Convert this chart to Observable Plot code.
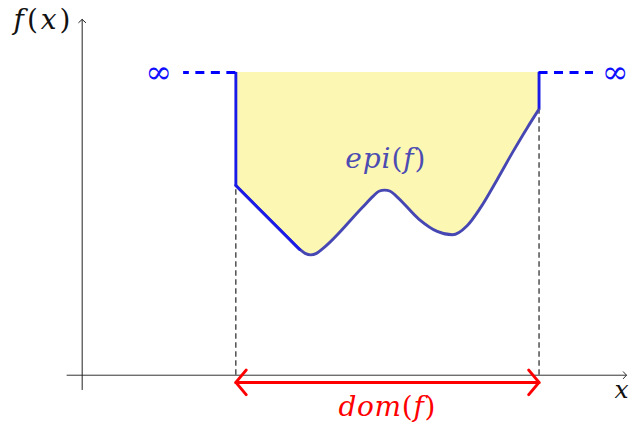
<!DOCTYPE html>
<html><head><meta charset="utf-8">
<script src="https://cdn.jsdelivr.net/npm/d3@7"></script>
<script src="https://cdn.jsdelivr.net/npm/@observablehq/plot@0.6"></script>
<style>html,body{margin:0;padding:0;background:#fff;} svg{display:block}</style>
</head><body><div id="chart"></div>
<script>
// ---- data (in drawing units) ----
const curveX = [4.06, 5.45, 5.74, 5.89, 6.04, 6.19, 6.34, 7.40, 7.69, 7.84, 7.99, 8.14, 8.29, 8.90, 9.38, 9.78, 10.17, 10.52, 10.97, 11.39, 11.76, 12.07];
const curveY = [5.01, 3.62, 3.33, 3.22, 3.18, 3.22, 3.33, 4.43, 4.73, 4.86, 4.89, 4.86, 4.74, 4.12, 3.80, 3.71, 3.95, 4.42, 5.18, 5.92, 6.54, 7.03];
const infinityLevel = 8;
const domEnds = [4.06, 12.07];
const infDashLeft = [4.06, 2.68];
const infDashRight = [12.07, 13.51];
const xAxisExtent = [-0.40, 14.38];
const yAxisExtent = [-0.38, 9.40];
const labelTexts = ["f(x)", "x", "epi(f)", "dom(f)", "∞"];
const labelX = [-1.06, 14.25, 8.01, 8.05];
const labelY = [9.38, -0.38, 5.72, -0.84];
const infLabelX = [2.02, 14.08];

const points = curveX.map((x, i) => ({x, y: curveY[i]}));
const serif = "'DejaVu Serif', serif";

const plot = Plot.plot({
  width: 629,
  height: 428,
  margin: 0,
  x: {domain: [-2.158, 14.46], axis: null},
  y: {domain: [-1.408, 9.90], axis: null},
  style: {background: "#ffffff"},
  marks: [
    Plot.areaY(points, {x: "x", y1: "y", y2: infinityLevel, curve: "monotone-x", fill: "#fcf8b4"}),
    Plot.ruleX(domEnds, {x: d => d, y1: 0, y2: (d, i) => i === 0 ? curveY[0] : curveY[curveY.length - 1], stroke: "#111", strokeWidth: 1.1, strokeDasharray: "5.5,3.5"}),
    Plot.line(points, {x: "x", y: "y", curve: "monotone-x", stroke: "#4747b4", strokeWidth: 2.9}),
    Plot.line(points.slice(0, 3), {x: "x", y: "y", stroke: "#1c1ce8", strokeWidth: 2.9, strokeLinecap: "round"}),
    Plot.ruleX(domEnds, {x: d => d, y1: (d, i) => i === 0 ? curveY[0] : curveY[curveY.length - 1], y2: infinityLevel, stroke: "#1c1ce8", strokeWidth: 2.9}),
    Plot.ruleY([infinityLevel], {x1: infDashLeft[0], x2: infDashLeft[1], stroke: "#0000ff", strokeWidth: 3, strokeDasharray: "9,6.5"}),
    Plot.ruleY([infinityLevel], {x1: infDashRight[0], x2: infDashRight[1], stroke: "#0000ff", strokeWidth: 3, strokeDasharray: "9,6.5"}),
    Plot.arrow([0], {x1: xAxisExtent[0], x2: xAxisExtent[1], y1: 0, y2: 0, stroke: "#333", strokeWidth: 1, headLength: 7, headAngle: 95}),
    Plot.arrow([0], {x1: 0, x2: 0, y1: yAxisExtent[0], y2: yAxisExtent[1], stroke: "#222", strokeWidth: 1, headLength: 7, headAngle: 95}),
    Plot.arrow([0], {x1: domEnds[0], x2: domEnds[1], y1: -0.19, y2: -0.19, stroke: "#ff0000", strokeWidth: 3, headLength: 8, headAngle: 100}),
    Plot.arrow([0], {x1: domEnds[1], x2: domEnds[0], y1: -0.19, y2: -0.19, stroke: "#ff0000", strokeWidth: 3, headLength: 8, headAngle: 100}),
    Plot.text([labelTexts[0]], {x: labelX[0], y: labelY[0], text: d => d, fill: "#111", fontSize: 28, fontFamily: serif, fontStyle: "italic"}),
    Plot.text([labelTexts[1]], {x: labelX[1], y: labelY[1], text: d => d, fill: "#111", fontSize: 25, fontFamily: serif, fontStyle: "italic"}),
    Plot.text([labelTexts[2]], {x: labelX[2], y: labelY[2], text: d => d, fill: "#4c4cb2", fontSize: 28, fontFamily: serif, fontStyle: "italic"}),
    Plot.text([labelTexts[3]], {x: labelX[3], y: labelY[3], text: d => d, fill: "#ff0000", fontSize: 28, fontFamily: serif, fontStyle: "italic"}),
    Plot.text(infLabelX, {x: d => d, y: infinityLevel, text: () => labelTexts[4], fill: "#1010ff", fontSize: 32, fontFamily: serif})
  ]
});

const textLengths = {"f(x)": 57, "epi(f)": 80, "dom(f)": 97};
d3.select(plot).selectAll("text").each(function() {
  const t = this.textContent;
  const sel = d3.select(this);
  sel.style("font-family", serif);
  if (/[()]/.test(t)) {
    sel.text(null);
    for (const ch of t) sel.append("tspan").style("font-style", /[()]/.test(ch) ? "normal" : "italic").text(ch);
  } else if (t !== "∞") {
    sel.style("font-style", "italic");
  }
  if (textLengths[t]) sel.attr("textLength", textLengths[t]).attr("lengthAdjust", "spacing");
});

document.getElementById("chart").appendChild(plot);
</script>
</body></html>
